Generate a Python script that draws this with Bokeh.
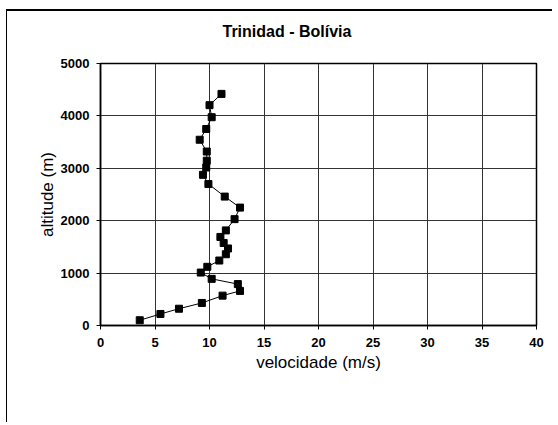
from bokeh.plotting import figure
from bokeh.models import Range1d, FixedTicker
from bokeh.embed import file_html
from bokeh.resources import INLINE

# data (velocity m/s, altitude m)
velocidade = [3.6, 5.5, 7.2, 9.3, 11.2, 12.8, 12.6, 10.2, 9.2, 9.8, 10.9, 11.5, 11.7,
              11.3, 11.0, 11.5, 12.3, 12.8, 11.4, 9.9, 9.4, 9.7, 9.75, 9.75, 9.1,
              9.7, 10.2, 10.0, 11.1]
altitude = [100, 220, 320, 430, 570, 660, 790, 890, 1010, 1120, 1240, 1360, 1470,
            1575, 1690, 1815, 2030, 2250, 2460, 2700, 2875, 3015, 3145, 3320, 3545,
            3750, 3975, 4205, 4420]
x_ticks = [0, 5, 10, 15, 20, 25, 30, 35, 40]
y_ticks = [0, 1000, 2000, 3000, 4000, 5000]
title_text = "Trinidad - Bolívia"
x_label = "velocidade (m/s)"
y_label = "altitude (m)"

FONT = "Liberation Sans"

p = figure(width=546, height=413, output_backend="svg", toolbar_location=None,
           x_range=Range1d(0, 40), y_range=Range1d(0, 5000),
           min_border_left=93, min_border_right=17, min_border_top=52,
           min_border_bottom=99, title=title_text + "\n ")
p.styles = {"margin-left": "6px", "margin-top": "9px",
            "border-left": "1px solid black", "border-top": "2px solid black"}

p.title.align = "left"
p.title.offset = 122
p.title.standoff = 13
p.title.text_font = FONT
p.title.text_font_style = "bold"
p.title.text_font_size = "16px"
p.title.text_color = "black"

p.outline_line_color = "black"
p.outline_line_width = 1.5
p.background_fill_color = "white"
p.border_fill_color = "white"

for ax, ticks in ((p.xaxis, x_ticks), (p.yaxis, y_ticks)):
    ax.ticker = FixedTicker(ticks=ticks)
    ax.minor_tick_line_color = None
    ax.major_tick_in = 0
    ax.major_tick_out = 4
    ax.major_tick_line_color = "black"
    ax.axis_line_color = "black"
    ax.axis_line_width = 1.5
    ax.major_label_text_font = FONT
    ax.major_label_text_font_style = "bold"
    ax.major_label_text_font_size = "13px"
    ax.major_label_text_color = "black"
    ax.axis_label_text_font = FONT
    ax.axis_label_text_font_style = "normal"
    ax.axis_label_text_font_size = "17px"
    ax.axis_label_text_color = "black"

p.xaxis.axis_label = x_label
p.yaxis.axis_label = y_label
p.xaxis.major_label_standoff = 8
p.xaxis.axis_label_standoff = 3
p.yaxis.major_label_standoff = 7
p.yaxis.axis_label_standoff = 1

p.xgrid.ticker = FixedTicker(ticks=x_ticks)
p.ygrid.ticker = FixedTicker(ticks=y_ticks)
p.grid.grid_line_color = "#333333"
p.grid.grid_line_width = 1

p.line(velocidade, altitude, line_color="black", line_width=1)
p.scatter(velocidade, altitude, marker="square", size=7, fill_color="black",
          line_color="black")

open("out.html", "w").write(file_html(p, INLINE))
